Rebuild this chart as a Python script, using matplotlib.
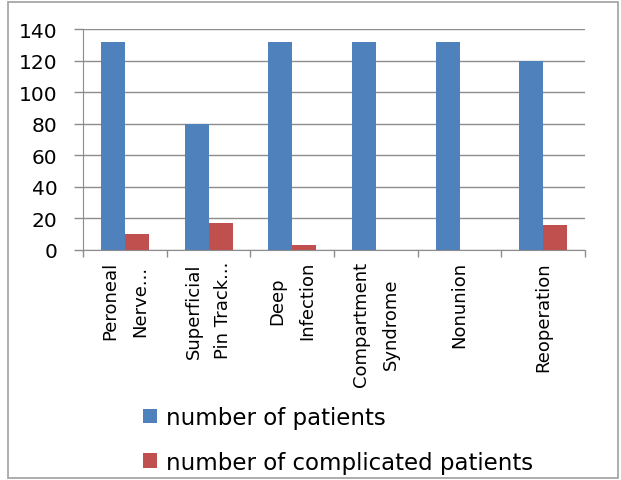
import numpy as np
import matplotlib.pyplot as plt
from matplotlib.patches import Rectangle

categories = ['Peroneal\nNerve...', 'Superficial\nPin Track...', 'Deep\nInfection',
              'Compartment\nSyndrome', 'Nonunion', 'Reoperation']
patients = [132, 80, 132, 132, 132, 120]
complicated = [10, 17, 3, 0, 0, 16]
series_names = ['number of patients', 'number of complicated patients']

blue = '#4F81BD'
red = '#C0504D'
grid_c = '#8C8C8C'

fig = plt.figure(figsize=(6.21, 4.81), dpi=100)
fig.patch.set_facecolor('white')
ax = fig.add_axes([0.1337, 0.4782, 0.8084, 0.4584])

x = np.arange(len(categories))
w = 0.287
b1 = ax.bar(x - w / 2, patients, w, color=blue, label=series_names[0], zorder=3)
b2 = ax.bar(x + w / 2, complicated, w, color=red, label=series_names[1], zorder=3)

ax.set_xlim(-0.5, len(categories) - 0.5)
ax.set_ylim(0, 140)
ax.set_yticks(range(0, 141, 20))
ax.yaxis.grid(True, color=grid_c, linewidth=1, zorder=0)
ax.tick_params(axis='y', length=6.5, width=1, color=grid_c, labelsize=14.5, pad=12)

# labels at centres, tick marks at category boundaries
ax.set_xticks(x)
ax.set_xticklabels(categories, rotation=90, fontsize=13, va='top', ha='center',
                   multialignment='center', linespacing=1.85)
ax.tick_params(axis='x', which='major', length=0, pad=8)
ax.set_xticks(np.arange(-0.5, len(categories), 1), minor=True)
ax.tick_params(axis='x', which='minor', length=5, width=1, color=grid_c)

for s in ['top', 'right']:
    ax.spines[s].set_visible(False)
for s in ['left', 'bottom']:
    ax.spines[s].set_color(grid_c)
    ax.spines[s].set_zorder(4)

fig.legend(handles=[b1, b2], loc='upper left', bbox_to_anchor=(0.2155, 0.173),
           bbox_transform=fig.transFigure, fontsize=16.5, frameon=False,
           handlelength=0.6, handleheight=0.6, handletextpad=0.4,
           labelspacing=0.95, borderaxespad=0)

# outer frame
fig.patches.append(Rectangle((8 / 621, 2 / 481), 610 / 621, 476 / 481,
                             transform=fig.transFigure, fill=False,
                             edgecolor='#A0A0A0', linewidth=1.2))

fig.savefig('out.png', dpi=100)
